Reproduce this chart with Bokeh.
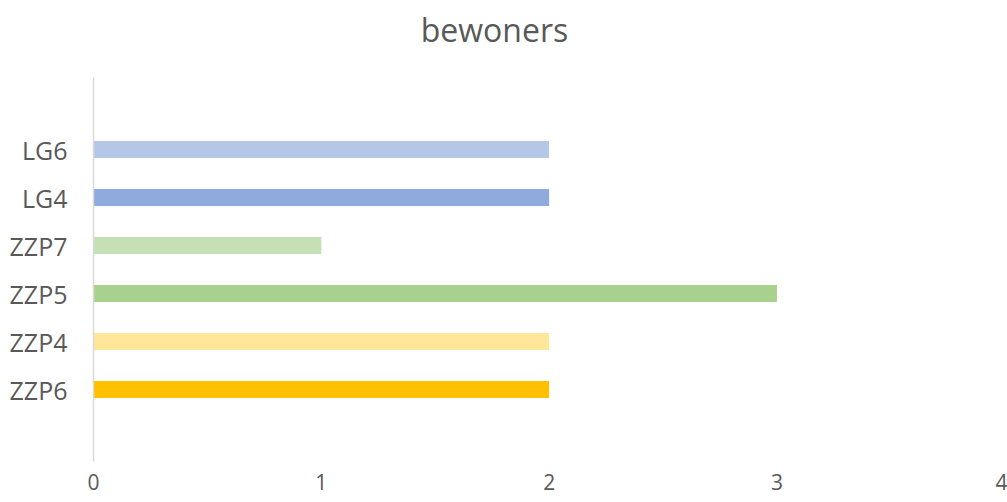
from bokeh.plotting import figure
from bokeh.models import Range1d, FixedTicker, Label
from bokeh.embed import file_html
from bokeh.resources import INLINE

# Data (bottom to top)
title_text = "bewoners"
categories = ["ZZP6", "ZZP4", "ZZP5", "ZZP7", "LG4", "LG6"]
values = [2, 2, 3, 1, 2, 2]
colors = ["#FFC000", "#FFE699", "#A9D18E", "#C5E0B4", "#8FAADC", "#B4C7E7"]
x_ticks = [0, 1, 2, 3, 4]

positions = list(range(1, len(categories) + 1))
axis_lo, axis_hi = -0.5, len(categories) + 1.5

# frame extends to the top of the canvas; the space above the axis holds the title
p = figure(frame_width=914, frame_height=461, output_backend="svg", toolbar_location=None,
           x_range=Range1d(0, 4.012), y_range=Range1d(axis_lo, axis_lo + 461 / 48.0),
           min_border_left=93, min_border_right=0, min_border_top=0, min_border_bottom=41)

p.hbar(y=positions, right=values, left=0, height=0.35, color=colors, line_color=None)

p.add_layout(Label(x=1.76, y=axis_hi + 48 / 48.0, text=title_text, text_align="center",
                   text_baseline="alphabetic", text_font="Open Sans",
                   text_font_size="32px", text_color="#595959"))

p.xgrid.visible = False
p.ygrid.visible = False
p.outline_line_color = None

p.xaxis.ticker = FixedTicker(ticks=x_ticks)
p.xaxis.axis_line_color = None
p.xaxis.major_tick_line_color = None
p.xaxis.minor_tick_line_color = None
p.xaxis.major_tick_out = 0
p.xaxis.major_label_text_font = "Open Sans"
p.xaxis.major_label_text_font_size = "21px"
p.xaxis.major_label_text_color = "#595959"
p.xaxis.major_label_standoff = 12

p.yaxis.ticker = FixedTicker(ticks=positions)
p.yaxis.bounds = (axis_lo, axis_hi)
p.yaxis.major_label_overrides = {pos: cat for pos, cat in zip(positions, categories)}
p.yaxis.axis_line_color = "#D9D9D9"
p.yaxis.axis_line_width = 1.5
p.yaxis.major_tick_line_color = None
p.yaxis.minor_tick_line_color = None
p.yaxis.major_tick_out = 0
p.yaxis.major_label_text_font = "Open Sans"
p.yaxis.major_label_text_font_size = "25px"
p.yaxis.major_label_text_color = "#595959"
p.yaxis.major_label_standoff = 26

open("out.html", "w").write(file_html(p, INLINE))
